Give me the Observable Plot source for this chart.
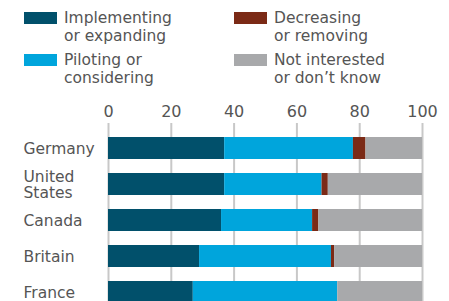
<!DOCTYPE html>
<html>
<head>
<meta charset="utf-8">
<script src="https://cdn.jsdelivr.net/npm/d3@7"></script>
<script src="https://cdn.jsdelivr.net/npm/@observablehq/plot@0.6"></script>
<style>
  html, body { margin: 0; padding: 0; background: #fff; overflow: hidden; }
  body { width: 449px; height: 301px; position: relative; font-family: "DejaVu Sans", sans-serif; color: #555; }
  #legend { position: relative; width: 449px; height: 95px; }
  .sw { position: absolute; width: 33px; height: 12px; }
  .lt { position: absolute; font-size: 15.5px; line-height: 18px; white-space: pre; color: #555; }
  #chart { position: absolute; left: 0; top: 95px; }
</style>
</head>
<body>
<div id="legend"></div>
<div id="chart"></div>
<script>
const countries = ["Germany", "United States", "Canada", "Britain", "France"];
const countryLabels = ["Germany", "United\nStates", "Canada", "Britain", "France"];
const categories = ["Implementing or expanding", "Piloting or considering", "Decreasing or removing", "Not interested or don’t know"];
const legendLabels = ["Implementing\nor expanding", "Piloting or\nconsidering", "Decreasing\nor removing", "Not interested\nor don’t know"];
const colors = ["#01506b", "#00a5dc", "#7b2a16", "#a8a9ab"];
const implementing = [37, 37, 36, 29, 27];
const piloting = [41, 31, 29, 42, 46];
const decreasing = [4, 2, 2, 1, 0];
const notInterested = [18, 30, 33, 28, 27];
const xTicks = [0, 20, 40, 60, 80, 100];

const series = [implementing, piloting, decreasing, notInterested];
const data = [];
countries.forEach((c, i) => {
  categories.forEach((k, j) => data.push({country: c, category: k, value: series[j][i]}));
});
const labelRows = countries.map((c, i) => ({country: c, label: countryLabels[i]}));

// legend
const legend = document.getElementById("legend");
const pos = [[24, 12], [24, 54], [234, 12], [234, 54]];
[0, 1, 2, 3].forEach((j) => {
  const [x, y] = pos[j];
  const sw = document.createElement("div");
  sw.className = "sw";
  sw.style.left = x + "px"; sw.style.top = y + "px"; sw.style.background = colors[j];
  legend.appendChild(sw);
  const t = document.createElement("div");
  t.className = "lt";
  t.style.left = (x + 40) + "px"; t.style.top = (y - 3) + "px";
  t.textContent = legendLabels[j];
  legend.appendChild(t);
});

const chart = Plot.plot({
  width: 449,
  height: 222,
  marginTop: 28,
  marginBottom: 0,
  marginLeft: 108,
  marginRight: 27,
  style: {fontFamily: "DejaVu Sans, sans-serif", fontSize: "15px", color: "#555", background: "#fff"},
  x: {domain: [0, 100], ticks: xTicks, label: null},
  y: {domain: countries, paddingInner: 0.4, paddingOuter: 0.346, label: null, axis: null},
  color: {domain: categories, range: colors},
  marks: [
    Plot.gridX(xTicks, {stroke: "#c8c8c8", strokeWidth: 2, strokeOpacity: 1}),
    Plot.barX(data, {x: "value", y: "country", fill: "category"}),
    Plot.axisX(xTicks, {anchor: "top", tickSize: 0, tickPadding: 7, fill: "#555", fontSize: 16, label: null}),
    Plot.text(labelRows, {y: "country", text: "label", frameAnchor: "left", textAnchor: "start",
      dx: -85, fill: "#555", fontSize: 15.5, lineHeight: 1.08})
  ]
});
document.getElementById("chart").appendChild(chart);
</script>
</body>
</html>
